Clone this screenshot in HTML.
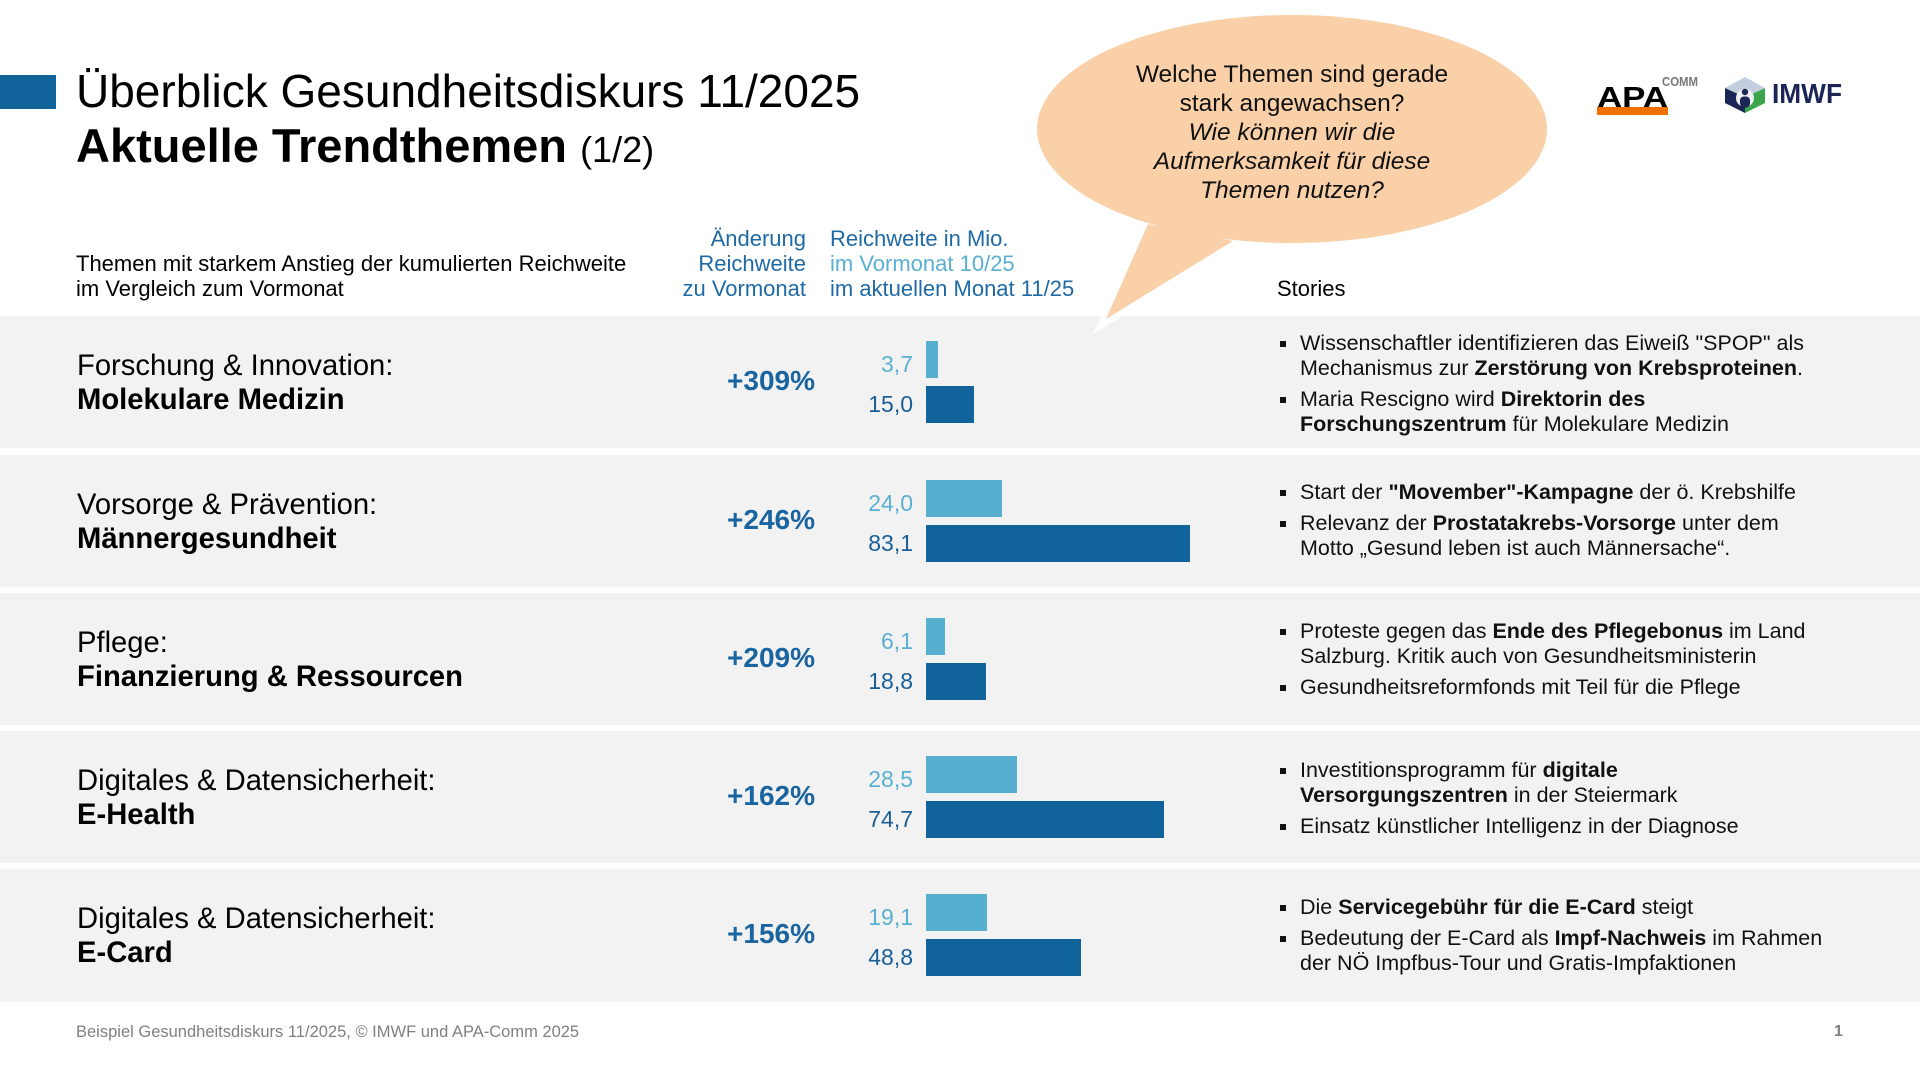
<!DOCTYPE html>
<html><head><meta charset="utf-8">
<style>
html,body{margin:0;padding:0;}
body{width:1920px;height:1080px;position:relative;overflow:hidden;background:#fff;font-family:"Liberation Sans",Arial,sans-serif;color:#000;}
.a{position:absolute;white-space:nowrap;}
.row{position:absolute;left:0;width:1920px;height:132px;background:#f2f2f2;}
.lbl{position:absolute;left:77px;font-size:29.2px;line-height:34px;white-space:nowrap;color:#000;}
.pct{position:absolute;right:1105px;font-size:28px;line-height:1;font-weight:bold;color:#1a64a0;white-space:nowrap;}
.vl{position:absolute;right:1007px;font-size:23px;line-height:1;color:#5ab0d2;}
.vd{position:absolute;right:1007px;font-size:23px;line-height:1;color:#1a5f98;}
.bl{position:absolute;left:926px;height:37px;background:#56afce;}
.bd{position:absolute;left:926px;height:37px;background:#10639b;}
.st{position:absolute;left:1300px;font-size:21.5px;line-height:25px;white-space:nowrap;color:#111;}
.st p{margin:0 0 6px 0;position:relative;}
.st p:before{content:"";position:absolute;left:-20px;top:10px;width:6px;height:6px;background:#111;}
</style></head>
<body>

<!-- gray rows -->
<div class="row" style="top:316px"></div>
<div class="row" style="top:455px"></div>
<div class="row" style="top:593px"></div>
<div class="row" style="top:731px"></div>
<div class="row" style="top:869px;height:133px"></div>

<!-- speech bubble + logos -->
<svg class="a" style="left:0;top:0" width="1920" height="1080" viewBox="0 0 1920 1080">
  <polygon points="1148,224 1233,241 1106,319" fill="none" stroke="#ffffff" stroke-width="12" stroke-linejoin="miter" stroke-miterlimit="20"/>
  <polygon points="1148,224 1233,241 1106,319" fill="#f9d0a8"/>
  <ellipse cx="1292" cy="129" rx="255" ry="114" fill="#f9d0a8"/>
  <!-- APA COMM logo -->
  <text x="1597" y="107" font-family="Liberation Sans, Arial, sans-serif" font-weight="bold" font-size="29" textLength="71" lengthAdjust="spacingAndGlyphs" fill="#000">APA</text>
  <rect x="1597" y="107" width="71" height="8" fill="#f07000"/>
  <text x="1662" y="86" font-family="Liberation Sans, Arial, sans-serif" font-weight="bold" font-size="13" textLength="36" lengthAdjust="spacingAndGlyphs" fill="#777">COMM</text>
  <!-- IMWF logo -->
  <polygon points="1725,88 1745,97 1745,113 1725,103" fill="#1b2556"/>
  <polygon points="1765,88 1745,97 1745,113 1765,103" fill="#3aa54a"/>
  <polygon points="1725,88 1745,77 1765,88 1745,97" fill="#c3cfdf"/>
  <circle cx="1745" cy="98" r="9" fill="#eef1f6"/>
  <circle cx="1745" cy="92" r="3.2" fill="#1b2556"/>
  <rect x="1740" y="96.5" width="10" height="11" rx="4" fill="#1b2556"/>
  <text x="1772" y="103" font-family="Liberation Sans, Arial, sans-serif" font-weight="bold" font-size="28" textLength="70" lengthAdjust="spacingAndGlyphs" fill="#1b2556">IMWF</text>
</svg>

<!-- title -->
<div class="a" style="left:0;top:75px;width:56px;height:34px;background:#10639b"></div>
<div class="a" style="left:76px;top:68px;font-size:46px;line-height:1;">Überblick Gesundheitsdiskurs 11/2025</div>
<div class="a" style="left:76px;top:122px;font-size:47px;line-height:1;font-weight:bold;">Aktuelle Trendthemen <span style="font-weight:normal;font-size:36px;">(1/2)</span></div>

<!-- bubble text -->
<div class="a" style="left:1092px;top:60px;width:400px;text-align:center;font-size:24.5px;line-height:29px;color:#111;">Welche Themen sind gerade<br>stark angewachsen?<br><i>Wie können wir die<br>Aufmerksamkeit für diese<br>Themen nutzen?</i></div>

<!-- headers -->
<div class="a" style="left:76px;top:251px;font-size:22px;line-height:25px;">Themen mit starkem Anstieg der kumulierten Reichweite<br>im Vergleich zum Vormonat</div>
<div class="a" style="right:1114px;top:226px;font-size:22px;line-height:25px;text-align:right;color:#1f6aa5;">Änderung<br>Reichweite<br>zu Vormonat</div>
<div class="a" style="left:830px;top:226px;font-size:22px;line-height:25px;color:#1f6aa5;">Reichweite in Mio.<br><span style="color:#5ab0d2">im Vormonat 10/25</span><br>im aktuellen Monat 11/25</div>
<div class="a" style="left:1277px;top:276px;font-size:22px;line-height:25px;">Stories</div>

<!-- Row 1 -->
<div class="lbl" style="top:349px">Forschung &amp; Innovation:<br><b>Molekulare Medizin</b></div>
<div class="pct" style="top:367px">+309%</div>
<div class="vl" style="top:353px">3,7</div>
<div class="vd" style="top:393px">15,0</div>
<div class="bl" style="top:341px;width:12px"></div>
<div class="bd" style="top:386px;width:48px"></div>
<div class="st" style="top:331px">
<p>Wissenschaftler identifizieren das Eiweiß "SPOP" als<br>Mechanismus zur <b>Zerstörung von Krebsproteinen</b>.</p>
<p>Maria Rescigno wird <b>Direktorin des<br>Forschungszentrum</b> für Molekulare Medizin</p>
</div>

<!-- Row 2 -->
<div class="lbl" style="top:488px">Vorsorge &amp; Prävention:<br><b>Männergesundheit</b></div>
<div class="pct" style="top:506px">+246%</div>
<div class="vl" style="top:492px">24,0</div>
<div class="vd" style="top:532px">83,1</div>
<div class="bl" style="top:480px;width:76px"></div>
<div class="bd" style="top:525px;width:264px"></div>
<div class="st" style="top:480px">
<p>Start der <b>"Movember"-Kampagne</b> der ö. Krebshilfe</p>
<p>Relevanz der <b>Prostatakrebs-Vorsorge</b> unter dem<br>Motto „Gesund leben ist auch Männersache“.</p>
</div>

<!-- Row 3 -->
<div class="lbl" style="top:626px">Pflege:<br><b>Finanzierung &amp; Ressourcen</b></div>
<div class="pct" style="top:644px">+209%</div>
<div class="vl" style="top:630px">6,1</div>
<div class="vd" style="top:670px">18,8</div>
<div class="bl" style="top:618px;width:19px"></div>
<div class="bd" style="top:663px;width:60px"></div>
<div class="st" style="top:619px">
<p>Proteste gegen das <b>Ende des Pflegebonus</b> im Land<br>Salzburg. Kritik auch von Gesundheitsministerin</p>
<p>Gesundheitsreformfonds mit Teil für die Pflege</p>
</div>

<!-- Row 4 -->
<div class="lbl" style="top:764px">Digitales &amp; Datensicherheit:<br><b>E-Health</b></div>
<div class="pct" style="top:782px">+162%</div>
<div class="vl" style="top:768px">28,5</div>
<div class="vd" style="top:808px">74,7</div>
<div class="bl" style="top:756px;width:91px"></div>
<div class="bd" style="top:801px;width:238px"></div>
<div class="st" style="top:758px">
<p>Investitionsprogramm für <b>digitale<br>Versorgungszentren</b> in der Steiermark</p>
<p>Einsatz künstlicher Intelligenz in der Diagnose</p>
</div>

<!-- Row 5 -->
<div class="lbl" style="top:902px">Digitales &amp; Datensicherheit:<br><b>E-Card</b></div>
<div class="pct" style="top:920px">+156%</div>
<div class="vl" style="top:906px">19,1</div>
<div class="vd" style="top:946px">48,8</div>
<div class="bl" style="top:894px;width:61px"></div>
<div class="bd" style="top:939px;width:155px"></div>
<div class="st" style="top:895px">
<p>Die <b>Servicegebühr für die E-Card</b> steigt</p>
<p>Bedeutung der E-Card als <b>Impf-Nachweis</b> im Rahmen<br>der NÖ Impfbus-Tour und Gratis-Impfaktionen</p>
</div>

<!-- footer -->
<div class="a" style="left:76px;top:1024px;font-size:16.5px;line-height:1;color:#808080;">Beispiel Gesundheitsdiskurs 11/2025, © IMWF und APA-Comm 2025</div>
<div class="a" style="left:1834px;top:1024px;font-size:16px;line-height:1;color:#808080;font-weight:bold;">1</div>

</body></html>
